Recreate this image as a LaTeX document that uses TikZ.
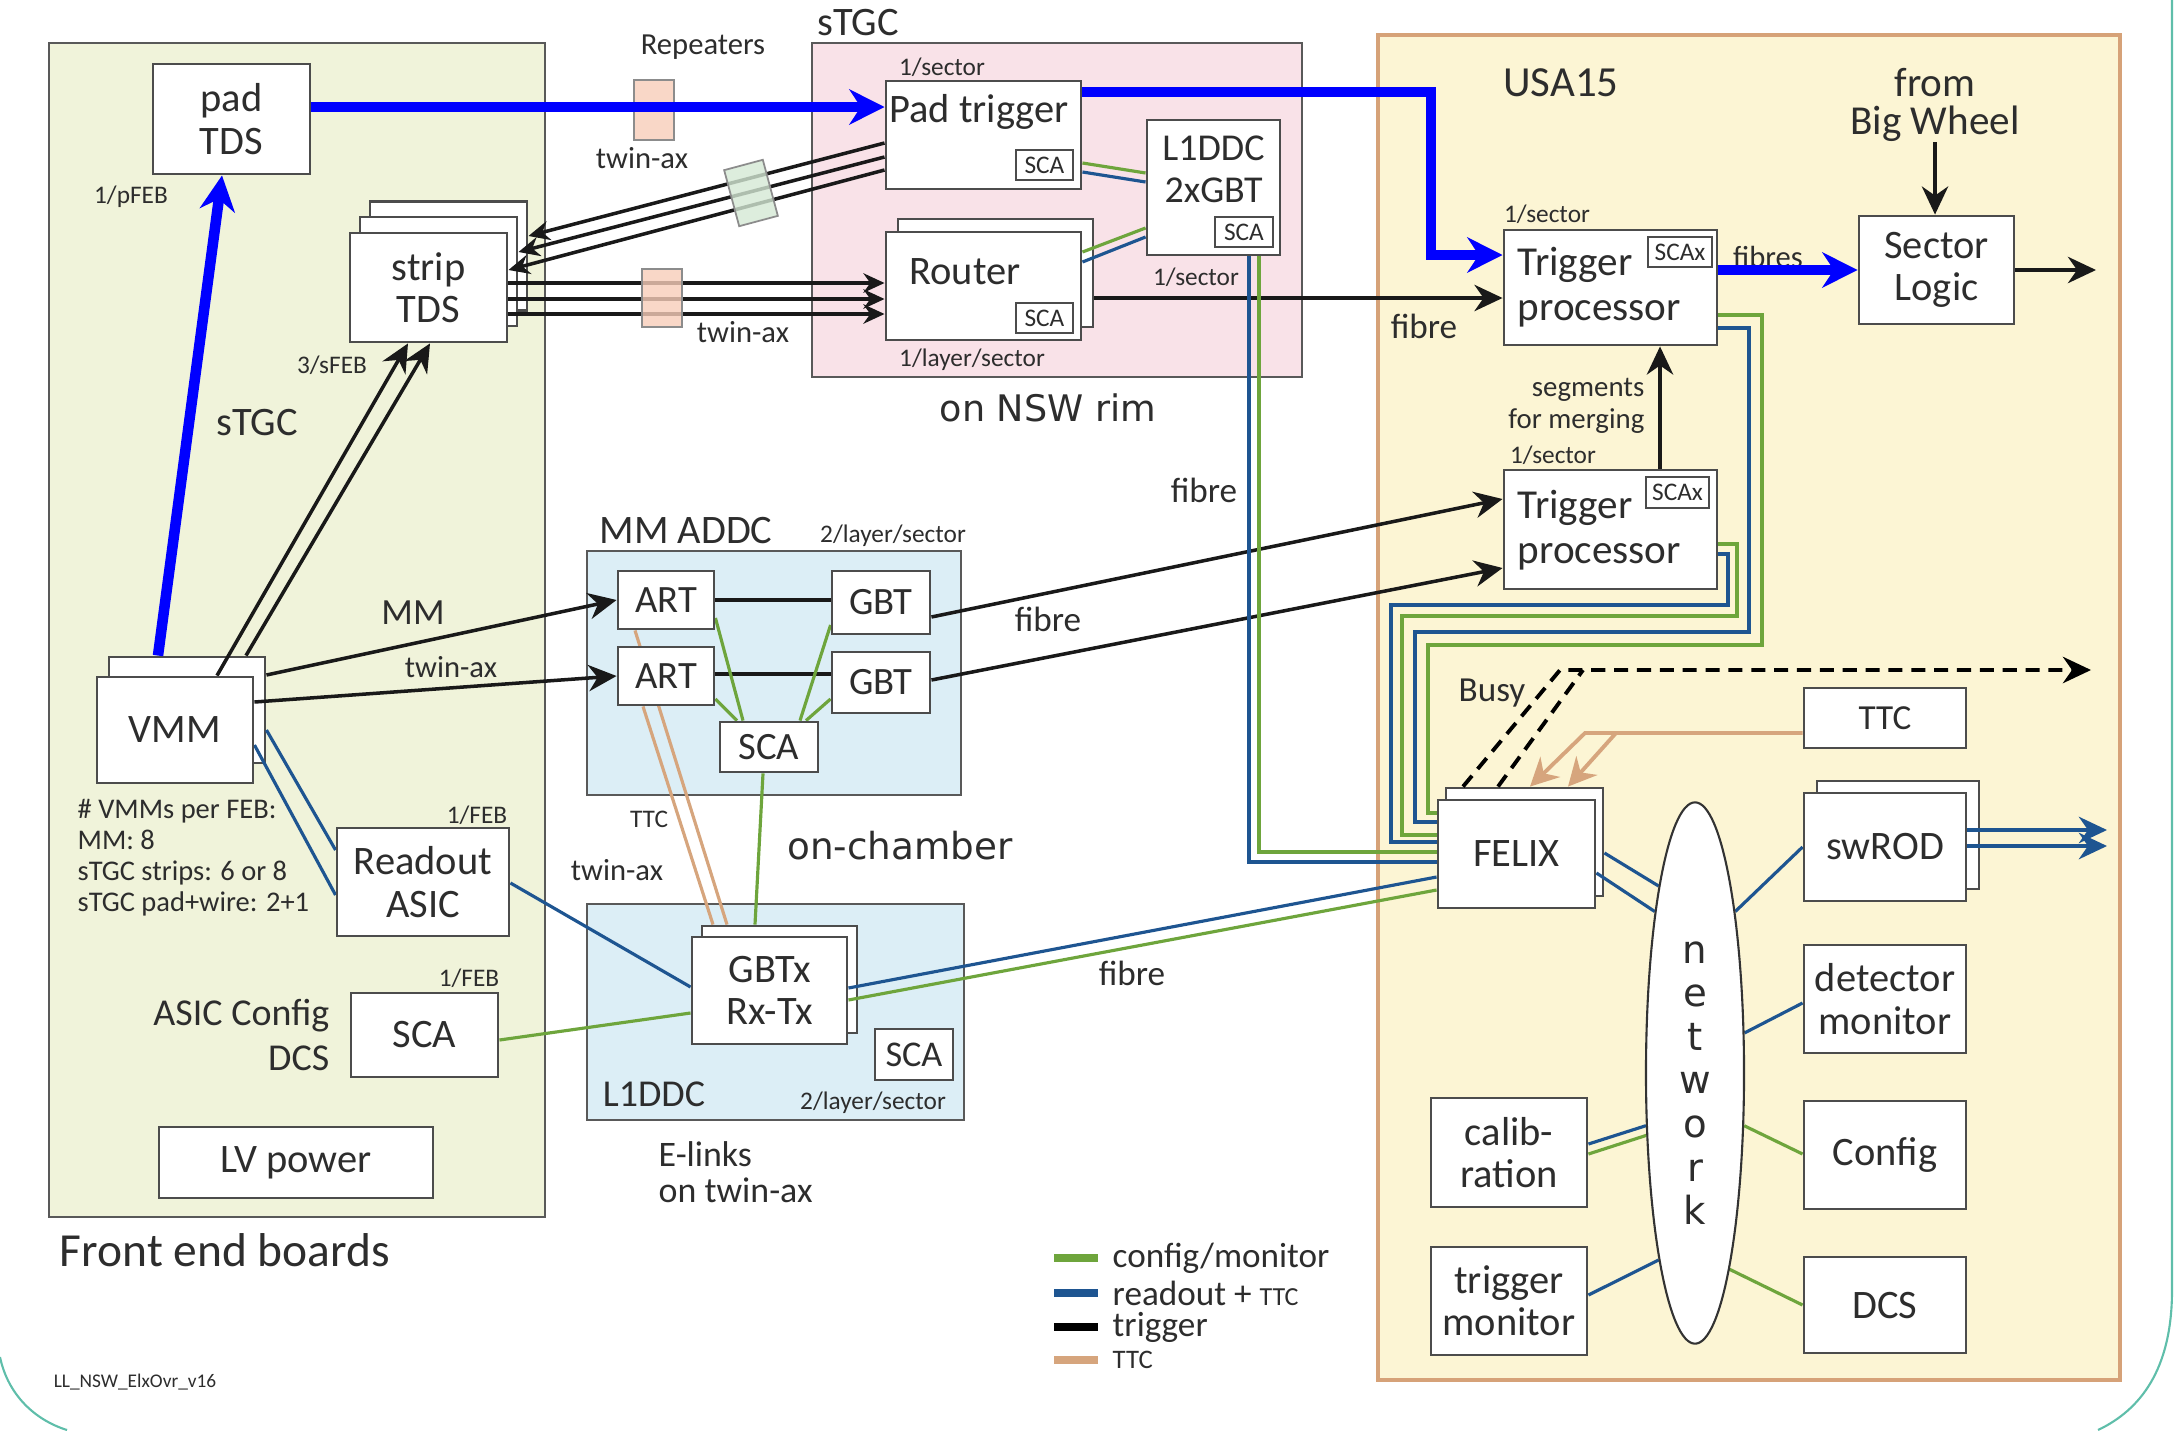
\documentclass[tikz,border=0pt]{standalone}
\usepackage{fontspec}
\setmainfont{Carlito}
\newfontfamily\widefont{DejaVu Sans}
\usepackage{tikz}
\usetikzlibrary{arrows.meta, shapes.geometric, backgrounds}
\definecolor{febfill}{RGB}{240,243,218}
\definecolor{rimfill}{RGB}{249,226,232}
\definecolor{chfill}{RGB}{220,238,246}
\definecolor{usafill}{RGB}{252,245,212}
\definecolor{usaline}{RGB}{214,162,120}
\definecolor{cfggreen}{RGB}{110,165,60}
\definecolor{rdoblue}{RGB}{30,85,145}
\definecolor{ttctan}{RGB}{214,165,125}
\definecolor{repink}{RGB}{248,205,185}
\definecolor{repgreen}{RGB}{212,232,212}
\definecolor{slideteal}{RGB}{95,190,170}
\definecolor{txtgray}{RGB}{45,45,45}
\newcommand{\fpanel}{\fontsize{13.5}{15}\selectfont}
\newcommand{\flabel}{\fontsize{11.5}{12}\selectfont}
\newcommand{\fmed}{\fontsize{10}{11}\selectfont}
\newcommand{\fsml}{\fontsize{8.7}{9.5}\selectfont}
\newcommand{\ftny}{\fontsize{7.2}{8}\selectfont}
\pgfdeclarelayer{panels}
\pgfdeclarelayer{wires}
\pgfsetlayers{panels,wires,main}
\tikzset{>={Stealth[length=8pt,width=7.5pt]},
  blk/.style={draw=black!70, fill=white, line width=0.8pt, inner sep=0pt, align=center, text=txtgray, font=\flabel},
  scabox/.style={draw=black!70, fill=white, line width=0.6pt, inner sep=0pt, text=txtgray, font=\ftny},
  panel/.style={draw=black!65, line width=0.8pt},
  lbl/.style={text=txtgray, inner sep=0pt, font=\ftny},
  trig/.style={black!90, line width=1pt},
  bundle/.style={trig, -{Stealth[length=6pt,width=5.5pt]}},
  cfgline/.style={cfggreen, line width=0.9pt},
  rdoline/.style={rdoblue, line width=0.9pt},
  ttcline/.style={ttctan, line width=0.9pt},
  ttcarrow/.style={ttctan, line width=1.1pt, -{Stealth[length=8pt,width=8pt]}},
  bigblue/.style={blue, line width=3pt, line join=miter, -{Stealth[length=10pt,width=10pt]}},
  busyline/.style={black, line width=1.1pt, dash pattern=on 4pt off 2.5pt},
  repbox/.style={draw=black!45, line width=0.5pt, fill opacity=0.8, inner sep=0pt}
}

\begin{document}
\begin{tikzpicture}[x=0.01cm, y=-0.01cm]
\useasboundingbox (0,0) rectangle (2179,1430);

% slide frame
\draw [slideteal, line width=0.6pt] (2172,0) -- (2172,1290) .. controls (2172,1370) and (2140,1410) .. (2098,1430);
\draw [slideteal, line width=0.6pt] (0,1357) .. controls (8,1395) and (35,1420) .. (67,1430);

% panels
\begin{pgfonlayer}{panels}
  \draw [panel, fill=febfill] (49,43) rectangle (545,1217);
  \draw [panel, fill=rimfill] (812,43) rectangle (1302,377);
  \draw [panel, fill=chfill] (587,551) rectangle (961,795);
  \draw [panel, fill=chfill] (587,904) rectangle (964,1120);
  \draw [usaline, line width=1.3pt, fill=usafill] (1378,35) rectangle (2120,1380);
\end{pgfonlayer}

\node [lbl, font=\fpanel] (feblbl) at (225,1250) {Front end boards};
\node [lbl, font=\flabel] (stgclbl) at (858,23) {sTGC};
\node [lbl, font=\widefont\fontsize{10.4}{12}\selectfont] (rimlbl) at (1048,408) {on NSW rim};
\node [lbl, font=\flabel] (addclbl) at (686,531) {MM ADDC};
\node [lbl] (addcper) at (893,536) {2/layer/sector};
\node [lbl, font=\widefont\fontsize{10.6}{12}\selectfont] (chamberlbl) at (900,846) {on-chamber};
\node [lbl, font=\fontsize{10.8}{12}\selectfont] (l1ddclbl) at (654,1094) {L1DDC};
\node [lbl] (l1ddcper) at (873,1103) {2/layer/sector};
\node [lbl, font=\fontsize{10.2}{10.3}\selectfont, align=left, anchor=west] (elinks) at (658,1172) {E-links\\on twin-ax};
\node [lbl, font=\fontsize{12.2}{14}\selectfont] (usalbl) at (1561,83) {USA15};

% front end boards
\node [blk, minimum width=1.57cm, minimum height=1.10cm] (padtds) at (231.5,119) {pad\\TDS};
\node [lbl] (pfeb) at (131,197) {1/pFEB};
\node [blk, minimum width=1.57cm, minimum height=1.09cm] (striptds) at (428.5,287.5) {strip\\TDS};
\node [lbl] (sfeb) at (332,365) {3/sFEB};
\node [lbl, font=\flabel] (stgcfeb) at (257,423) {sTGC};
\node [blk, minimum width=1.56cm, minimum height=1.06cm] (vmm) at (175,730) {VMM};
\node [lbl, font=\fontsize{10.5}{12}\selectfont] (mmlbl) at (413,613) {MM};
\node [lbl, font=\fsml] (vmmtwin) at (451,667) {twin-ax};
\node [lbl, font=\fontsize{8.1}{8.8}\selectfont, align=left, anchor=west] (vmmnote) at (77,858) {\# VMMs per FEB:\\MM: 8\\sTGC strips: 6 or 8\\sTGC pad+wire: 2+1};
\node [blk, minimum width=1.72cm, minimum height=1.08cm] (readout) at (423,882) {Readout\\ASIC};
\node [lbl] (rofeb) at (477,815) {1/FEB};
\node [blk, minimum width=1.47cm, minimum height=0.84cm] (febsca) at (424.5,1035) {SCA};
\node [lbl] (scafeb) at (469,978) {1/FEB};
\node [lbl, font=\fontsize{10.8}{13}\selectfont, align=right, anchor=east] (asiccfg) at (330,1035) {ASIC Config\\DCS};
\node [blk, minimum width=2.74cm, minimum height=0.71cm] (lvpower) at (296,1162.5) {LV power};
\node [lbl, font=\fontsize{5.5}{6}\selectfont] (version) at (135,1382) {LL\_NSW\_ElxOvr\_v16};

% repeaters
\node [lbl, font=\fsml] (replbl) at (703,47) {Repeaters};
\node [lbl, font=\fsml] (twinup) at (642,158) {twin-ax};
\node [lbl, font=\fsml] (twinlow) at (743,332) {twin-ax};

% sTGC on the rim
\node [lbl] (ptper) at (942,67) {1/sector};
\node [blk, minimum width=1.95cm, minimum height=1.08cm] (padtrig) at (983.5,135) {};
\node [lbl, font=\flabel] (padtrigtxt) at (979,112) {Pad trigger};
\node [scabox, minimum width=0.57cm, minimum height=0.30cm] (ptsca) at (1044.5,165) {SCA};
\node [blk, minimum width=1.95cm, minimum height=1.08cm] (router) at (983.5,286) {};
\node [lbl, font=\flabel] (routertxt) at (965,272) {Router};
\node [scabox, minimum width=0.57cm, minimum height=0.30cm] (rtsca) at (1044.5,318) {SCA};
\node [lbl] (rtper) at (972,360) {1/layer/sector};
\node [blk, minimum width=1.33cm, minimum height=1.35cm] (l1ddc) at (1213.5,187.5) {};
\node [lbl, font=\fontsize{10.8}{12}\selectfont, align=center] (l1ddctxt) at (1213.5,169) {L1DDC\\2xGBT};
\node [scabox, minimum width=0.58cm, minimum height=0.30cm] (l1sca) at (1244,232) {SCA};
\node [lbl] (l1per) at (1196,277) {1/sector};

% MM ADDC
\node [blk, font=\fontsize{11}{12}\selectfont, minimum width=0.96cm, minimum height=0.58cm] (art1) at (666,600) {ART};
\node [blk, font=\fontsize{11}{12}\selectfont, minimum width=0.96cm, minimum height=0.58cm] (art2) at (666,676) {ART};
\node [blk, font=\fontsize{11}{12}\selectfont, minimum width=0.98cm, minimum height=0.63cm] (gbt1) at (881,602.5) {GBT};
\node [blk, font=\fontsize{11}{12}\selectfont, minimum width=0.98cm, minimum height=0.61cm] (gbt2) at (881,682.5) {GBT};
\node [blk, font=\fontsize{11}{12}\selectfont, minimum width=0.98cm, minimum height=0.50cm] (mmsca) at (769,747) {SCA};
\node [lbl] (ttclbl) at (649,819) {TTC};
\node [lbl, font=\fsml] (chtwin) at (617,870) {twin-ax};

% L1DDC
\node [blk, minimum width=1.55cm, minimum height=1.07cm] (gbtx) at (769.5,990.5) {GBTx\\Rx-Tx};
\node [blk, font=\fontsize{10.3}{12}\selectfont, minimum width=0.78cm, minimum height=0.51cm] (lwsca) at (914,1054.5) {SCA};

% fibres
\node [lbl, font=\fmed] (fib1) at (1204,490) {fibre};
\node [lbl, font=\fmed] (fib2) at (1048,619) {fibre};
\node [lbl, font=\fmed] (fib3) at (1132,973) {fibre};
\node [lbl, font=\fmed] (fib4) at (1424,326) {fibre};

% USA15
\node [lbl] (tp1per) at (1547,214) {1/sector};
\node [blk, minimum width=2.13cm, minimum height=1.15cm] (tp1) at (1610.5,287.5) {};
\node [lbl, font=\fontsize{11.7}{12.8}\selectfont, align=left, anchor=west] (tp1txt) at (1517,287) {Trigger\\processor};
\node [scabox, minimum width=0.64cm, minimum height=0.30cm] (tp1sca) at (1680,252) {SCAx};
\node [lbl, font=\fsml] (fibres) at (1768,257) {fibres};
\node [lbl, font=\fontsize{8.2}{9}\selectfont, align=right, anchor=east] (segments) at (1645,406) {segments\\for merging};
\node [lbl] (tp2per) at (1553,455) {1/sector};
\node [blk, minimum width=2.13cm, minimum height=1.19cm] (tp2) at (1610.5,529.5) {};
\node [lbl, font=\fontsize{11.7}{12.8}\selectfont, align=left, anchor=west] (tp2txt) at (1517,530) {Trigger\\processor};
\node [scabox, minimum width=0.63cm, minimum height=0.31cm] (tp2sca) at (1677.5,492.5) {SCAx};
\node [lbl, font=\fontsize{11.7}{10.8}\selectfont, align=center] (bigwheel) at (1935,105) {from\\Big Wheel};
\node [blk, minimum width=1.55cm, minimum height=1.08cm] (sectorlogic) at (1936.5,270) {Sector\\Logic};
\node [lbl, font=\fmed] (busylbl) at (1492,693) {Busy};
\node [blk, font=\fmed, minimum width=1.62cm, minimum height=0.60cm] (ttcbox) at (1885,718) {TTC};
\node [blk, minimum width=1.57cm, minimum height=1.08cm] (felix) at (1516.5,854) {FELIX};
\node [blk, minimum width=1.62cm, minimum height=1.08cm] (swrod) at (1885,847) {swROD};
\node [blk, minimum width=1.62cm, minimum height=1.08cm] (detmon) at (1885,999) {detector\\monitor};
\node [blk, minimum width=1.62cm, minimum height=1.08cm] (config) at (1885,1155) {Config};
\node [blk, minimum width=1.62cm, minimum height=0.96cm] (dcs) at (1885,1305) {DCS};
\node [blk, minimum width=1.56cm, minimum height=1.09cm] (calib) at (1509,1152.5) {calib-\\ration};
\node [blk, minimum width=1.56cm, minimum height=1.08cm] (trigmon) at (1509,1301) {trigger\\monitor};
\node [draw=black!80, line width=0.6pt, fill=white, ellipse, minimum width=0.98cm, minimum height=5.41cm, inner sep=0pt] (network) at (1695,1073) {};
\node [lbl, font=\widefont\fontsize{11}{12.4}\selectfont, align=center] (nettxt) at (1695,1083) {n\\e\\t\\w\\o\\r\\k};

% legend
\draw [cfggreen, line width=2.4pt] (1054,1258) -- (1098,1258);
\node [lbl, font=\fmed, anchor=west] (lgcfg) at (1112,1258) {config/monitor};
\draw [rdoblue, line width=2.4pt] (1054,1293) -- (1098,1293);
\node [lbl, font=\fmed, anchor=west] (lgrdo) at (1112,1293) {readout + {\fontsize{7.4}{8}\selectfont TTC}};
\draw [black, line width=2.4pt] (1054,1327) -- (1098,1327);
\node [lbl, font=\fmed, anchor=west] (lgtrig) at (1112,1327) {trigger};
\draw [ttctan, line width=2.4pt] (1054,1360) -- (1098,1360);
\node [lbl, font=\fontsize{7.6}{8}\selectfont, anchor=west] (lgttc) at (1112,1360) {TTC};

\begin{pgfonlayer}{wires}
  % copies behind the stacked boards
  \node [blk, minimum width=1.57cm, minimum height=1.09cm] (strip3) at (448.5,256) {};
  \node [blk, minimum width=1.57cm, minimum height=1.09cm] (strip2) at (438.5,271.5) {};
  \node [blk, minimum width=1.56cm, minimum height=1.06cm] (vmmb) at (187,710) {};
  \node [blk, minimum width=1.95cm, minimum height=1.08cm] (routerb) at (995.5,273) {};
  \node [blk, minimum width=1.55cm, minimum height=1.07cm] (gbtxb) at (779.5,979.5) {};
  \node [blk, minimum width=1.57cm, minimum height=1.08cm] (felixb) at (1524.5,842) {};
  \node [blk, minimum width=1.62cm, minimum height=1.08cm] (swrodb) at (1898,835) {};

  % trigger
  \draw [trig, ->] (vmm.north -| 217,0) -- (striptds.south -| 408,0);
  \draw [trig, ->] (vmmb.north -| 246,0) -- (striptds.south -| 430,0);
  \draw [trig, ->] (vmmb.east |- 0,675) -- (art1.west);
  \draw [trig, ->] (vmm.east |- 0,702) -- (art2.west);
  \draw [bundle] (padtrig.west |- 0,143) -- (strip3.east |- 0,236);
  \draw [bundle] (padtrig.west |- 0,157) -- (strip2.east |- 0,252);
  \draw [bundle] (padtrig.west |- 0,170) -- (striptds.east |- 0,270);
  \draw [bundle] (striptds.east |- 0,283) -- (router.west |- 0,283);
  \draw [bundle] (striptds.east |- 0,299) -- (router.west |- 0,299);
  \draw [bundle] (striptds.east |- 0,314) -- (router.west |- 0,314);
  \draw [trig, ->] (routerb.east |- 0,298) -- (tp1.west |- 0,298);
  \draw [trig] (art1.east |- 0,600) -- (gbt1.west |- 0,600);
  \draw [trig] (art2.east |- 0,674) -- (gbt2.west |- 0,674);
  \draw [trig, ->] (gbt1.east |- 0,617) -- (tp2.west |- 0,499);
  \draw [trig, ->] (gbt2.east |- 0,680) -- (tp2.west |- 0,568);
  \draw [trig, ->] (tp2.north -| 1660,0) -- (tp1.south -| 1660,0);
  \draw [trig, ->] (bigwheel.south) -- (sectorlogic.north -| bigwheel.south);
  \coordinate (slout) at (2096,270);
  \draw [trig, ->] (sectorlogic.east) -- (slout);

  % config and readout
  \draw [cfgline] (padtrig.east |- 0,163) -- (l1ddc.west |- 0,173);
  \draw [rdoline] (padtrig.east |- 0,172) -- (l1ddc.west |- 0,182);
  \draw [cfgline] (router.east |- 0,252) -- (l1ddc.west |- 0,228);
  \draw [rdoline] (router.east |- 0,262) -- (l1ddc.west |- 0,237);
  \draw [rdoline] (l1ddc.south -| 1249,0) -- (1249,862) -- (felix.west |- 0,862);
  \draw [cfgline] (l1ddc.south -| 1259,0) -- (1259,852) -- (felix.west |- 0,852);
  \draw [cfgline] (tp1.east |- 0,315) -- (1762,315) -- (1762,645) -- (1428,645) -- (1428,813) -- (felix.west |- 0,813);
  \draw [rdoline] (tp1.east |- 0,328) -- (1749,328) -- (1749,632) -- (1415,632) -- (1415,822) -- (felix.west |- 0,822);
  \draw [cfgline] (tp2.east |- 0,544) -- (1737,544) -- (1737,616) -- (1402,616) -- (1402,835) -- (felix.west |- 0,835);
  \draw [rdoline] (tp2.east |- 0,554) -- (1728,554) -- (1728,605) -- (1391,605) -- (1391,842) -- (felix.west |- 0,842);
  \draw [rdoline] (gbtx.east |- 0,988) -- (felix.west |- 0,877);
  \draw [cfgline] (gbtx.east |- 0,1000) -- (felix.west |- 0,890);
  \draw [rdoline] (readout.east |- 0,883) -- (gbtx.west |- 0,987);
  \draw [cfgline] (febsca.east |- 0,1040) -- (gbtx.west |- 0,1013);
  \draw [rdoline] (vmmb.east |- 0,730) -- (readout.west |- 0,850);
  \draw [rdoline] (vmm.east |- 0,745) -- (readout.west |- 0,895);
  \draw [cfgline] (art1.east |- 0,618) -- (mmsca.north -| 743,0);
  \draw [cfgline] (art2.east |- 0,699) -- (mmsca.north -| 737,0);
  \draw [cfgline] (gbt1.west |- 0,625) -- (mmsca.north -| 800,0);
  \draw [cfgline] (gbt2.west |- 0,699) -- (mmsca.north -| 806,0);
  \draw [cfgline] (mmsca.south -| 763,0) -- (gbtxb.north -| 755,0);
  \draw [ttcline] (art1.south -| 635,0) -- (gbtxb.north -| 727,0);
  \draw [ttcline] (art2.south -| 643,0) -- (gbtxb.north -| 713,0);

  % TTC and busy at FELIX
  \coordinate (ttcsplit) at (1616,733);
  \draw [ttcarrow] (ttcbox.west |- 0,733) -- (1585,733) -- (felixb.north -| 1530,0);
  \draw [ttcarrow] (ttcsplit) -- (felixb.north -| 1568,0);
  \coordinate (busyout) at (2091,670);
  \draw [busyline, ->] (felixb.north -| 1463,0) -- (1560,670) -- (busyout);
  \draw [busyline] (felixb.north -| 1498,0) -- (1583,670);

  % network
  \draw [rdoline] (felixb.east |- 0,853) -- (network.101.5);
  \draw [rdoline] (felix.east |- 0,873) -- (network.104);
  \draw [rdoline] (network.76.7) -- (swrod.west);
  \draw [rdoline] (network.39.2) -- (detmon.west |- 0,1003);
  \draw [rdoline] (calib.east |- 0,1144) -- (network.227.8);
  \draw [cfgline] (calib.east |- 0,1154) -- (network.232.9);
  \draw [cfgline] (network.313.3) -- (config.west |- 0,1154);
  \draw [rdoline] (trigmon.east |- 0,1295) -- (network.259.3);
  \draw [cfgline] (network.280.2) -- (dcs.west |- 0,1305);
  \coordinate (rodout1) at (2107,830);
  \coordinate (rodout2) at (2107,846);
  \draw [rdoline, line width=1.2pt, -{Stealth[length=8pt,width=7.5pt]}] (swrod.east |- rodout1) -- (rodout1);
  \draw [rdoline, line width=1.2pt, -{Stealth[length=8pt,width=7.5pt]}] (swrod.east |- rodout2) -- (rodout2);
\end{pgfonlayer}

% repeaters on the cables
\node [repbox, fill=repink, minimum width=0.40cm, minimum height=0.60cm] (rep1) at (654,110) {};
\node [repbox, fill=repink, minimum width=0.40cm, minimum height=0.58cm] (rep2) at (662,298) {};
\node [repbox, fill=repgreen, minimum width=0.40cm, minimum height=0.58cm, rotate=15] (rep3) at (751,193) {};

% pad trigger path
\draw [bigblue] (vmmb.north -| 158,0) -- (padtds.south -| 222,0);
\draw [bigblue] (padtds.east |- 0,107) -- (padtrig.west |- 0,107);
\draw [bigblue] (padtrig.east |- 0,92) -- (1431,92) -- (1431,255) -- (tp1.west |- 0,255);
\draw [bigblue] (tp1.east |- 0,270) -- (sectorlogic.west |- 0,270);
\end{tikzpicture}
\end{document}
